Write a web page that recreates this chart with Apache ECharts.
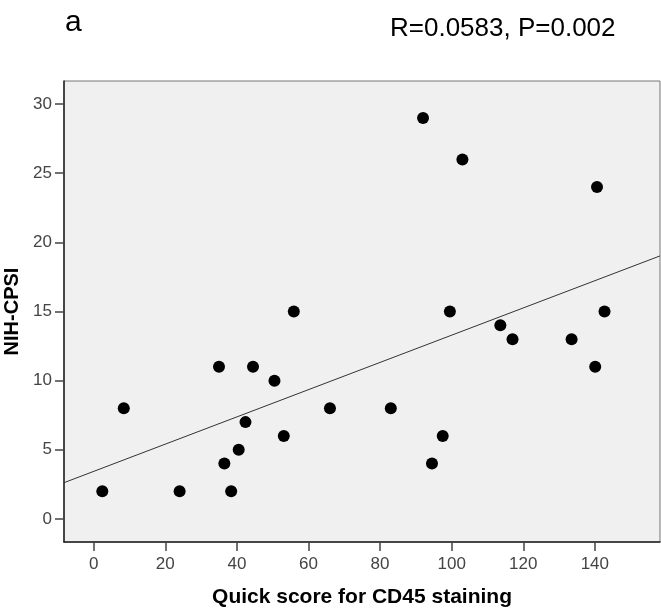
<!DOCTYPE html>
<html>
<head>
<meta charset="utf-8">
<script src="https://cdn.jsdelivr.net/npm/echarts@6/dist/echarts.min.js"></script>
<style>
  html, body { margin: 0; padding: 0; background: #fff; }
  #chart { width: 661px; height: 611px; }
</style>
</head>
<body>
<div id="chart"></div>
<script>
// quick score (x) vs NIH-CPSI (y)
var quickScore = [2.4, 8.4, 24, 35, 36.5, 38.4, 40.5, 42.4, 44.5, 50.5, 53.1, 55.9, 66,
  83, 92, 94.5, 97.5, 99.5, 103, 113.6, 117, 133.5, 140.1, 140.6, 142.7];
var nihCpsi = [2, 8, 2, 11, 4, 2, 5, 7, 11, 10, 6, 15, 8,
  8, 29, 4, 6, 15, 26, 14, 13, 13, 11, 24, 15];

// fit line end points
var fitX = [-8.3, 158.2];
var fitY = [2.62, 19.02];

var xTicks = [0, 20, 40, 60, 80, 100, 120, 140];
var yTicks = [0, 5, 10, 15, 20, 25, 30];

var points = quickScore.map(function(v, i) { return [v, nihCpsi[i]]; });
var fitLine = fitX.map(function(v, i) { return [v, fitY[i]]; });

var chart = echarts.init(document.getElementById('chart'));

var font = 'Liberation Sans, Arial, sans-serif';
var axisText = { color: '#444', fontSize: 17, fontFamily: font };

chart.setOption({
  animation: false,
  title: [
    {
      text: 'a', left: 60, top: 3,
      textStyle: { fontSize: 30, fontWeight: 'normal', color: '#000', fontFamily: font }
    },
    {
      text: 'R=0.0583, P=0.002', left: 385, top: 11,
      textStyle: { fontSize: 26, fontWeight: 'normal', color: '#000', fontFamily: font }
    }
  ],
  grid: {
    left: 64, right: 1, top: 81, bottom: 69, outerBoundsMode: 'none',
    show: true, backgroundColor: '#f0f0f0', borderColor: '#777', borderWidth: 1
  },
  xAxis: {
    type: 'value', min: -8.3, max: 158.2,
    name: 'Quick score for CD45 staining', nameLocation: 'middle', nameGap: 45,
    nameTextStyle: { color: '#000', fontSize: 21, fontWeight: 'bold', fontFamily: font },
    axisLine: { onZero: false, lineStyle: { color: '#222', width: 1.5 } },
    axisTick: { customValues: xTicks, length: 9, lineStyle: { color: '#444', width: 1.5 } },
    axisLabel: Object.assign({ customValues: xTicks, margin: 14 }, axisText),
    splitLine: { show: false }
  },
  yAxis: {
    type: 'value', min: -1.67, max: 31.67,
    name: 'NIH-CPSI', nameLocation: 'middle', nameGap: 42, nameRotate: 90,
    nameTextStyle: { color: '#000', fontSize: 20, fontWeight: 'bold', fontFamily: font },
    axisLine: { onZero: false, lineStyle: { color: '#222', width: 1.5 } },
    axisTick: { customValues: yTicks, length: 9, lineStyle: { color: '#444', width: 1.5 } },
    axisLabel: Object.assign({ customValues: yTicks, margin: 12 }, axisText),
    splitLine: { show: false }
  },
  series: [
    {
      type: 'line', data: fitLine, symbol: 'none', silent: true,
      lineStyle: { color: '#333', width: 1 }
    },
    {
      type: 'scatter', data: points, symbol: 'circle', symbolSize: 12,
      itemStyle: { color: '#000', opacity: 1 }
    }
  ]
});
</script>
</body>
</html>
